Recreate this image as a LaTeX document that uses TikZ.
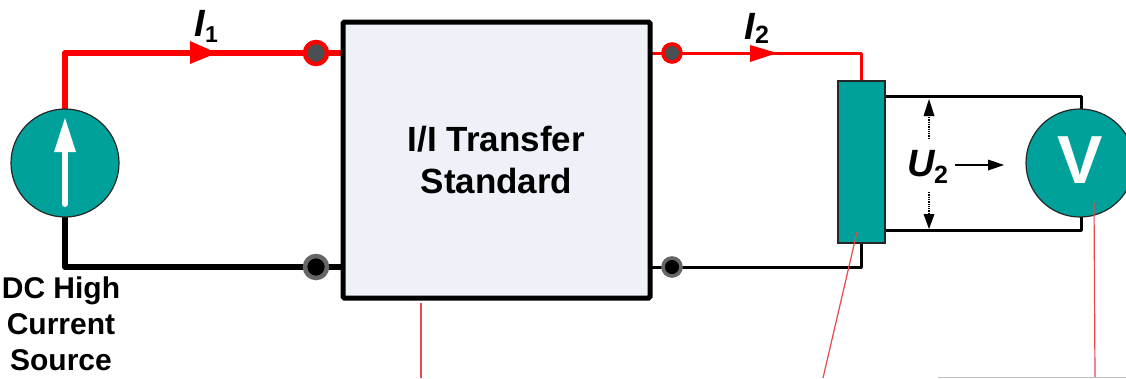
\documentclass[tikz,border=0pt]{standalone}
\usepackage{fontspec}
\setmainfont{Liberation Sans}
\usetikzlibrary{arrows.meta}
\definecolor{tealfill}{HTML}{00A19B}
\definecolor{boxfill}{HTML}{EEF1F7}
\definecolor{wred}{HTML}{FF0000}
\definecolor{termgray}{HTML}{4A4F52}
\definecolor{leader}{HTML}{E8474C}
\tikzset{
  x=1pt,y=-1pt,
  teal shape/.style={draw=black!85,line width=1.2pt,fill=tealfill,inner sep=0pt},
  heavyred/.style={draw=wred,line width=6pt,line join=round},
  heavyblack/.style={draw=black,line width=6pt,line join=round},
  thinred/.style={draw=wred,line width=3pt,line join=round},
  thinblack/.style={draw=black,line width=3pt,line join=round},
  leaderline/.style={draw=leader,line width=1.2pt},
  label text/.style={font=\bfseries\fontsize{30}{36}\selectfont,align=center,inner sep=0pt,text=black},
  symbol/.style={font=\bfseries\itshape\fontsize{38}{38}\selectfont,inner sep=0pt,text=black},
  subsym/.style={font=\bfseries\fontsize{25}{25}\selectfont,inner sep=0pt,text=black},
  terminal/.style={circle,minimum size=#1,inner sep=0pt},
}
\begin{document}
\begin{tikzpicture}
\useasboundingbox (0,0) rectangle (1126,378);
\coordinate (tl) at (65,53);
\coordinate (bl) at (65,267);
\coordinate (tr) at (861,53);
\coordinate (br) at (861,267);
\coordinate (st) at (1081,96);
\coordinate (sb) at (1081,230);
\path node[circle,minimum size=108pt,inner sep=0pt] (src) at (65,163) {};
\path node[rectangle,minimum width=307pt,minimum height=276pt,inner sep=0pt] (box) at (496.5,160) {};
\path node[terminal=26pt] (t1) at (316,53) {};
\path node[terminal=26pt] (t3) at (316,267) {};
\path node[terminal=22pt] (t2) at (672,53) {};
\path node[terminal=22pt] (t4) at (672,267) {};
\path node[rectangle,minimum width=47pt,minimum height=162pt,inner sep=0pt] (shunt) at (861.5,162) {};
\path node[circle,minimum size=108pt,inner sep=0pt] (vm) at (1080,163) {};
% wires
\draw[heavyred] (src.north) -- (tl) -- (box.west |- tl);
\draw[heavyblack] (src.south) -- (bl) -- (box.west |- bl);
\draw[thinred] (box.east |- tr) -- (tr) -- (shunt.north -| tr);
\draw[thinblack] (box.east |- br) -- (br) -- (shunt.south -| br);
\draw[thinblack] (shunt.east |- st) -- (st) -- (vm.north -| st);
\draw[thinblack] (shunt.east |- sb) -- (sb) -- (vm.south -| sb);
% boxes
\node[teal shape,circle,minimum size=108pt] at (src) {};
\node[draw=black,line width=5pt,fill=boxfill,minimum width=307pt,minimum height=276pt,inner sep=0pt,rounded corners=1.5pt,align=center,font=\bfseries\fontsize{35}{42}\selectfont,text=black] at (box) {I/I Transfer\\Standard};
\node[teal shape,minimum width=47pt,minimum height=162pt] at (shunt) {};
\node[teal shape,circle,minimum size=108pt] at (vm) {};
\node[text=white,font=\bfseries\fontsize{68}{68}\selectfont,inner sep=0pt] (vlabel) at (1080,160) {V};
% source arrow
\coordinate (a1) at (65,204);
\coordinate (a2) at (65,150);
\draw[white,line width=6pt,line cap=round] (a1) -- (a2);
\fill[white] (65,118) -- (76,152) -- (54,152) -- cycle;
% terminals
\node[terminal=26pt,fill=termgray,draw=wred,line width=4.5pt,minimum size=22pt] at (t1) {};
\node[terminal=26pt,fill=black,draw=black!60,line width=4.5pt,minimum size=22pt] at (t3) {};
\node[terminal=22pt,fill=termgray,draw=wred,line width=3.6pt,minimum size=18pt] at (t2) {};
\node[terminal=22pt,fill=black,draw=black!60,line width=3.6pt,minimum size=18pt] at (t4) {};
% current arrows
\fill[wred] (190,41) -- (217,53) -- (190,64) -- cycle;
\fill[wred] (750,45) -- (777,53) -- (750,62) -- cycle;
% symbols
\node[symbol,anchor=base] (i1) at (200,36) {I};
\node[subsym,anchor=base west] (i1s) at (205,42) {\fontsize{23}{23}\selectfont 1};
\node[symbol,anchor=base] (i2) at (750,39) {I};
\node[subsym,anchor=base west] (i2s) at (755,43) {2};
\node[symbol,anchor=base] (u2) at (921,176) {U};
\node[subsym,anchor=base west] (u2s) at (934,183) {2};
% voltage arrows
\coordinate (ua1) at (929,139);
\coordinate (ua2) at (929,99);
\coordinate (ub1) at (929,192);
\coordinate (ub2) at (929,229);
\draw[black,line width=1.3pt,densely dotted] (ua1) -- (929,112);
\fill[black] (ua2) -- (934.5,116) -- (923.5,116) -- cycle;
\draw[black,line width=1.3pt,densely dotted] (ub1) -- (929,215);
\fill[black] (ub2) -- (934.5,214) -- (923.5,214) -- cycle;
\coordinate (ar1) at (955,165);
\coordinate (ar2) at (1004,165);
\draw[black,line width=1.3pt] (ar1) -- (990,165);
\fill[black] (ar2) -- (988,159.5) -- (988,170.5) -- cycle;
% source label
\node[label text,anchor=north] (srclabel) at (61,277) {DC High\\Current\\Source};
% leader lines
\coordinate (l1) at (421,303);
\coordinate (l1e) at (421,378);
\coordinate (l2) at (857,232);
\coordinate (l2e) at (823,378);
\coordinate (l3) at (1094,202);
\coordinate (l3e) at (1095,378);
\draw[leaderline] (l1) -- (l1e);
\draw[leaderline] (l2) -- (l2e);
\draw[leaderline] (l3) -- (l3e);
\draw[black!25,line width=1.5pt] (938,377.5) -- (1126,377.5);
\end{tikzpicture}
\end{document}
